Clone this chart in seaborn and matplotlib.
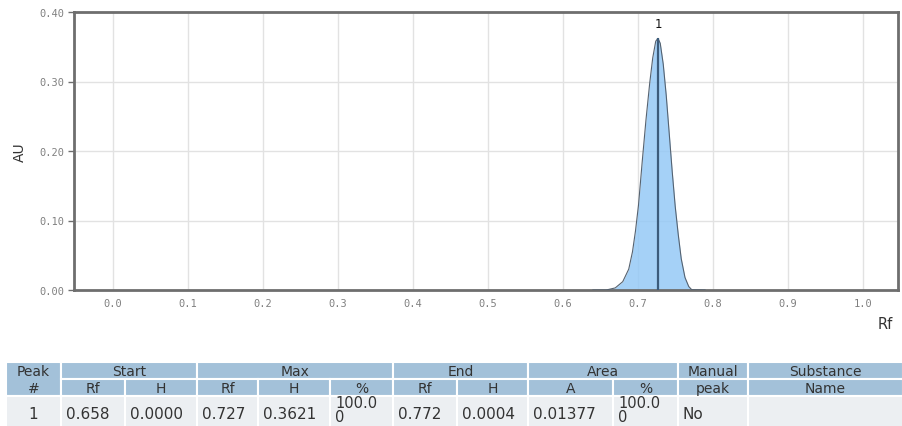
import matplotlib
matplotlib.use("Agg")
import matplotlib.pyplot as plt
import seaborn as sns
import pandas as pd
from matplotlib.patches import Rectangle

# ---------------- data ----------------
peak_rf = [0.640, 0.658, 0.670, 0.680, 0.688, 0.693, 0.697, 0.701, 0.706, 0.711,
           0.716, 0.720, 0.724, 0.727, 0.730, 0.734, 0.738, 0.742, 0.746, 0.750,
           0.754, 0.758, 0.763, 0.768, 0.772, 0.790]
peak_h = [0.0, 0.0, 0.003, 0.012, 0.030, 0.055, 0.085, 0.122, 0.185, 0.245,
          0.298, 0.334, 0.358, 0.3621, 0.355, 0.325, 0.280, 0.225, 0.170, 0.120,
          0.080, 0.045, 0.018, 0.005, 0.0004, 0.0]
peak_max_rf = 0.727
peak_max_h = 0.3621
peak_labels = ["1"]

x_ticks = [0.0, 0.1, 0.2, 0.3, 0.4, 0.5, 0.6, 0.7, 0.8, 0.9, 1.0]
y_ticks = [0.00, 0.10, 0.20, 0.30, 0.40]

header_groups = ["Peak", "Start", "Max", "End", "Area", "Manual", "Substance"]
header_sub = ["#", "Rf", "H", "Rf", "H", "%", "Rf", "H", "A", "%", "peak", "Name"]
data_row = ["1", "0.658", "0.0000", "0.727", "0.3621", "100.0\n0",
            "0.772", "0.0004", "0.01377", "100.0\n0", "No", ""]

# ---------------- figure ----------------
sns.set_theme(style="whitegrid")
plt.rcParams['font.family'] = ['DejaVu Sans']
W, H = 903, 427
fig = plt.figure(figsize=(W / 100, H / 100), dpi=100)
fig.patch.set_facecolor("white")

L, R, T, B = 74, 898, 13, 291
ax = fig.add_axes([L / W, 1 - B / H, (R - L) / W, (B - T) / H])
ax.set_facecolor("white")

df = pd.DataFrame({"Rf": peak_rf, "AU": peak_h})
ax.fill_between(df["Rf"], df["AU"], 0, color="#95C9F6", alpha=0.85, zorder=2, linewidth=0)
sns.lineplot(data=df, x="Rf", y="AU", ax=ax, color="#556270", linewidth=0.8,
             sort=False, zorder=3)
ax.vlines(peak_max_rf, 0, peak_max_h, color="#3C5C7C", linewidth=1.6, zorder=4)
ax.annotate(peak_labels[0], (peak_max_rf, peak_max_h), xytext=(0, 11),
            textcoords="offset points", ha="center", va="center",
            fontsize=8.5, color="#111111")

ax.set_xlim(-0.0516, 1.0470)
ax.set_ylim(0, 0.40)
ax.set_xticks(x_ticks)
ax.set_xticklabels([f"{v:.1f}" for v in x_ticks])
ax.set_yticks(y_ticks)
ax.set_yticklabels([f"{v:.2f}" for v in y_ticks])
ax.grid(True, color="#E2E2E2", linewidth=1.0)
ax.set_axisbelow(True)
for s in ax.spines.values():
    s.set_color("#6E6E6E")
    s.set_linewidth(2.0)
    s.set_visible(True)

ax.tick_params(axis="y", which="both", left=True, length=4, width=1, color="#6E6E6E",
               pad=3, labelsize=7.5, labelcolor="#808080")
ax.tick_params(axis="x", which="both", bottom=False, length=0, pad=6,
               labelsize=7.5, labelcolor="#808080")
for lab in ax.get_xticklabels() + ax.get_yticklabels():
    lab.set_fontfamily("DejaVu Sans Mono")

ax.set_xlabel("Rf", fontsize=10.5, color="#333333")
ax.set_ylabel("AU", fontsize=10, color="#333333")
ax.xaxis.set_label_coords((885 - L) / (R - L), (B - 325) / (B - T))
ax.yaxis.set_label_coords((20 - L) / (R - L), 0.5)
ax.xaxis.label.set_va("center")
ax.yaxis.label.set_va("center")

# ---------------- table ----------------
tax = fig.add_axes([0, 0, 1, 1])
tax.set_xlim(0, W)
tax.set_ylim(H, 0)
tax.axis("off")

cols = [6, 61, 125, 197, 258, 330, 393, 457, 528, 613, 678, 748, 903]
group_spans = [(0, 1), (1, 3), (3, 6), (6, 8), (8, 10), (10, 11), (11, 12)]
merged = {0, 10, 11}
y0, y1, y2, y3 = 363, 380, 397, 440
hdr_col = "#A3C1D9"
row_col = "#ECEFF2"
edge = "white"
lw = 1.5

for gi, (a, b) in enumerate(group_spans):
    x_a, x_b = cols[a], cols[b]
    if gi in merged:
        tax.add_patch(Rectangle((x_a, y0), x_b - x_a, y2 - y0, facecolor=hdr_col,
                                edgecolor=edge, linewidth=lw))
    else:
        tax.add_patch(Rectangle((x_a, y0), x_b - x_a, y1 - y0, facecolor=hdr_col,
                                edgecolor=edge, linewidth=lw))
        for c in range(a, b):
            tax.add_patch(Rectangle((cols[c], y1), cols[c + 1] - cols[c], y2 - y1,
                                    facecolor=hdr_col, edgecolor=edge, linewidth=lw))
    tax.text((x_a + x_b) / 2, (y0 + y1) / 2 + 0.5, header_groups[gi], ha="center",
             va="center", fontsize=10, color="#333333")

for c, lab in enumerate(header_sub):
    tax.text((cols[c] + cols[c + 1]) / 2, (y1 + y2) / 2 + 0.5, lab, ha="center",
             va="center", fontsize=10, color="#333333")

for c, val in enumerate(data_row):
    tax.add_patch(Rectangle((cols[c], y2), cols[c + 1] - cols[c], y3 - y2,
                            facecolor=row_col, edgecolor=edge, linewidth=lw))
    if c == 0:
        tax.text((cols[c] + cols[c + 1]) / 2, 415, val, ha="center", va="center",
                 fontsize=11, color="#333333")
    elif "\n" in val:
        tax.text(cols[c] + 5, 425.5, val, ha="left", va="bottom", fontsize=10.5,
                 color="#333333", linespacing=0.95, multialignment="left")
    else:
        tax.text(cols[c] + 5, 415, val, ha="left", va="center", fontsize=11,
                 color="#333333")

fig.savefig("out.png", dpi=100, facecolor="white")
